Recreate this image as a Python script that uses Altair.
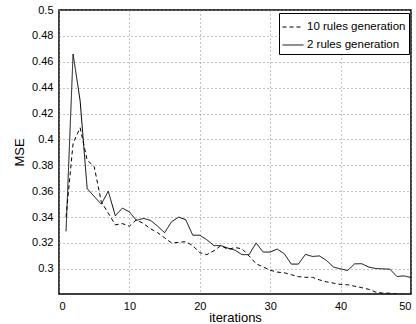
import altair as alt
import pandas as pd

iterations = list(range(1, 51))
rules10 = [0.340, 0.397, 0.409, 0.384, 0.379, 0.352, 0.343, 0.334, 0.335, 0.333,
           0.338, 0.335, 0.331, 0.328, 0.324, 0.320, 0.3205, 0.321, 0.318, 0.3125,
           0.311, 0.314, 0.318, 0.315, 0.3165, 0.3155, 0.310, 0.304, 0.3015, 0.299,
           0.2975, 0.297, 0.2955, 0.294, 0.2935, 0.2935, 0.2915, 0.290, 0.289, 0.288,
           0.2877, 0.2866, 0.2855, 0.2842, 0.282, 0.2813, 0.2812, 0.2805, 0.2803, 0.2800]
rules2 = [0.329, 0.466, 0.430, 0.362, 0.356, 0.350, 0.360, 0.341, 0.347, 0.344,
          0.3375, 0.339, 0.3375, 0.333, 0.328, 0.3365, 0.340, 0.338, 0.326, 0.326,
          0.3225, 0.318, 0.318, 0.316, 0.3145, 0.311, 0.311, 0.320, 0.313, 0.313,
          0.3153, 0.3117, 0.3037, 0.3037, 0.3112, 0.3096, 0.310, 0.3065, 0.3014, 0.300,
          0.2988, 0.3039, 0.304, 0.3014, 0.3003, 0.300, 0.2998, 0.2941, 0.2946, 0.2933]
series_names = ["10 rules generation", "2 rules generation"]
y_ticks = [0.3, 0.32, 0.34, 0.36, 0.38, 0.4, 0.42, 0.44, 0.46, 0.48, 0.5]
x_ticks = [0, 10, 20, 30, 40, 50]

df = pd.concat([
    pd.DataFrame({"iterations": iterations, "MSE": rules10, "series": series_names[0]}),
    pd.DataFrame({"iterations": iterations, "MSE": rules2, "series": series_names[1]}),
])

FONT = "Liberation Sans"

chart = alt.Chart(df).mark_line(clip=True, color="black", strokeWidth=1).encode(
    x=alt.X("iterations:Q",
            scale=alt.Scale(domain=[0, 50], nice=False),
            axis=alt.Axis(values=x_ticks, format="d", title="iterations",
                          grid=True, gridDash=[1, 3], gridColor="#888888",
                          ticks=False, domain=False, labelPadding=6,
                          labelFontSize=11, titleFontSize=13, titleFontWeight="normal",
                          titlePadding=0, labelColor="black", titleColor="black",
                          labelFont=FONT, titleFont=FONT)),
    y=alt.Y("MSE:Q",
            scale=alt.Scale(domain=[0.2806, 0.5], nice=False, zero=False),
            axis=alt.Axis(values=y_ticks, format=".2~f", title="MSE",
                          grid=True, gridDash=[1, 3], gridColor="#888888",
                          ticks=False, domain=False, labelPadding=6,
                          labelFontSize=11, titleFontSize=13, titleFontWeight="normal",
                          titlePadding=5, labelColor="black", titleColor="black",
                          labelFont=FONT, titleFont=FONT)),
    strokeDash=alt.StrokeDash("series:N",
                              scale=alt.Scale(domain=series_names, range=[[4, 3], [1, 0]]),
                              legend=alt.Legend(title=None, orient="none", legendX=220, legendY=3,
                                                symbolType="stroke", symbolSize=441,
                                                symbolStrokeColor="black", symbolStrokeWidth=1,
                                                strokeColor="black", fillColor="white",
                                                padding=3, rowPadding=1, labelOffset=3,
                                                labelFontSize=11.5, labelFont=FONT,
                                                labelColor="black", labelLimit=200)),
).properties(
    width=352, height=284,
    autosize=alt.AutoSizeParams(type="none"),
    padding={"left": 59, "top": 10, "right": 5, "bottom": 30},
).configure_view(stroke="black", strokeWidth=1.5)

chart.save("out.html", embed_options={"renderer": "svg", "actions": False})
